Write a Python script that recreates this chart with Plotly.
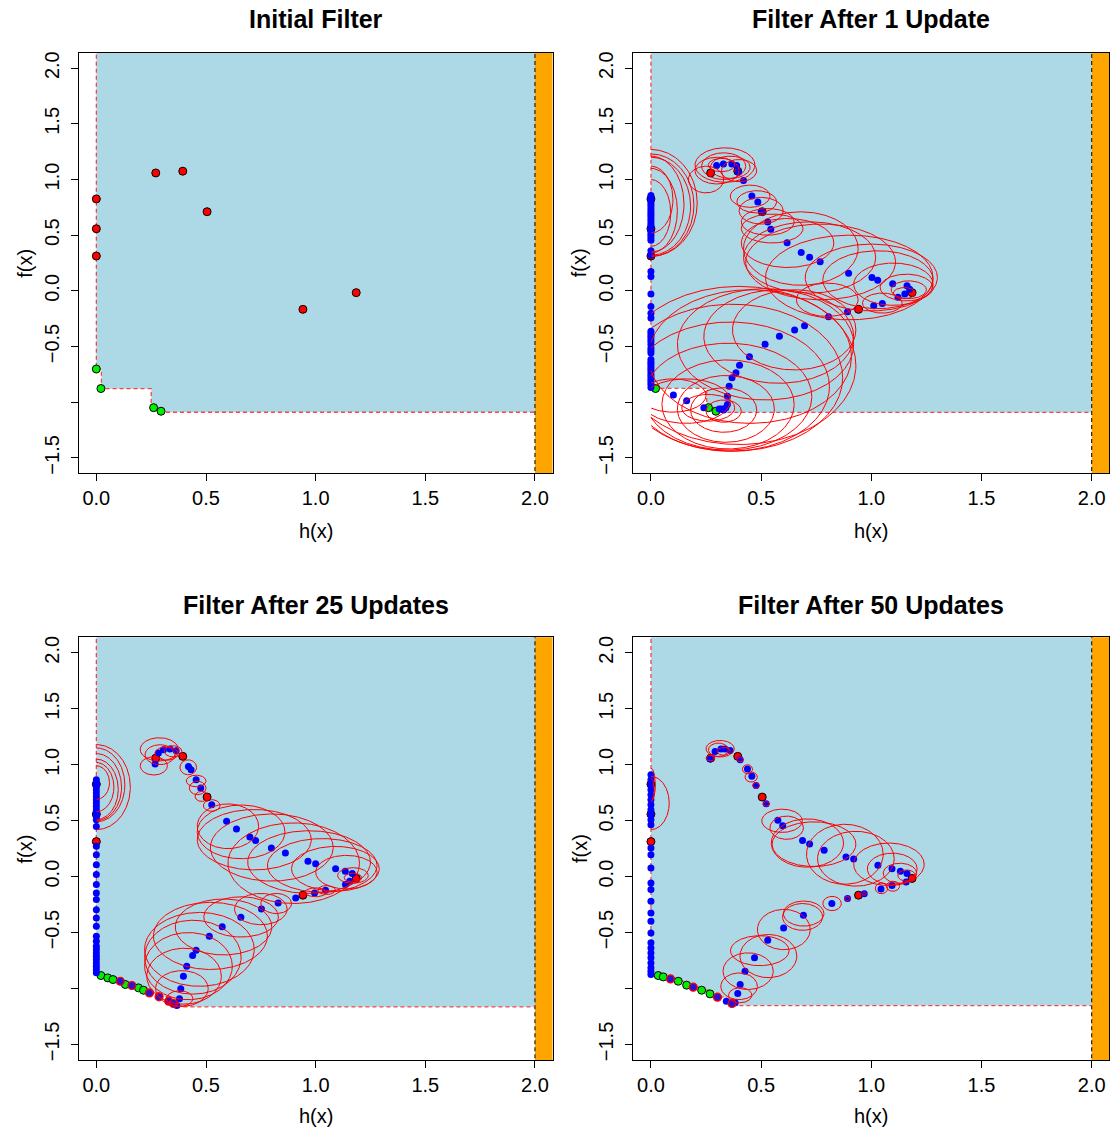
import numpy as np
import plotly.graph_objects as go

# ---------------- text / axes ----------------
TITLES = ["Initial Filter", "Filter After 1 Update", "Filter After 25 Updates", "Filter After 50 Updates"]
X_LABEL = "h(x)"
Y_LABEL = "f(x)"
X_TICKS = [0.0, 0.5, 1.0, 1.5, 2.0]
X_TICK_TEXT = ["0.0", "0.5", "1.0", "1.5", "2.0"]
Y_TICKS = [-1.5, -1.0, -0.5, 0.0, 0.5, 1.0, 1.5, 2.0]
Y_TICK_TEXT = ["\u22121.5", "", "\u22120.5", "0.0", "0.5", "1.0", "1.5", "2.0"]
H_MAX = 2.0
X_RANGE = [-0.08, 2.08]
Y_RANGE = [-1.64, 2.14]

# ---------------- initial (red) points, shown in every panel ----------------
red_h = [0.0, 0.0, 0.0, 0.271, 0.394, 0.505, 0.942, 1.185]
red_f = [0.826, 0.558, 0.313, 1.059, 1.075, 0.711, -0.166, -0.016]

# ---------------- panel 1: initial filter ----------------
p1_filter_h = [0.0, 0.023, 0.25, 0.30]
p1_filter_f = [-0.705, -0.878, -1.062, -1.09]
p1_green_h = [0.0, 0.021, 0.261, 0.295]
p1_green_f = [-0.702, -0.877, -1.049, -1.081]

# ---------------- panel 2: after 1 update ----------------
p2_filter_h = [0.0, 0.253, 0.30]
p2_filter_f = [-0.875, -1.05, -1.092]
p2_green_h = [0.021, 0.261, 0.295]
p2_green_f = [-0.877, -1.049, -1.081]
p2_blue_h = [0.298, 0.329, 0.367, 0.389, 0.397, 0.420, 0.458, 0.485, 0.503, 0.530, 0.544,
             0.618, 0.682, 0.720, 0.768, 0.897, 1.003, 1.029, 1.097, 1.162, 1.174, 1.152,
             1.121, 1.050, 1.011, 0.892, 0.806, 0.697, 0.652, 0.583, 0.518, 0.447, 0.402,
             0.386, 0.368, 0.355, 0.347, 0.347, 0.340, 0.330, 0.320, 0.310, 0.102, 0.162, 0.240]
p2_blue_f = [1.125, 1.140, 1.140, 1.125, 1.065, 0.991, 0.851, 0.798, 0.714, 0.619, 0.554,
             0.432, 0.345, 0.301, 0.262, 0.158, 0.119, 0.095, 0.065, 0.045, 0.015, -0.027,
             -0.057, -0.113, -0.134, -0.188, -0.232, -0.313, -0.351, -0.408, -0.479, -0.592, -0.667,
             -0.735, -0.780, -0.857, -0.946, -1.021, -1.050, -1.070, -1.060, -1.060, -0.935, -0.988, -1.050]
p2_axis_f = [0.857, 0.835, 0.8125, 0.79, 0.768, 0.745, 0.723, 0.70, 0.679, 0.656, 0.634, 0.61,
             0.589, 0.567, 0.545, 0.52, 0.50, 0.478, 0.455, 0.36, 0.321, 0.173, 0.128, -0.027,
             -0.14, -0.2, -0.244, -0.363, -0.385, -0.408, -0.43, -0.452, -0.48, -0.512, -0.535,
             -0.557, -0.616, -0.64, -0.661, -0.683, -0.705, -0.727, -0.75, -0.772, -0.795,
             -0.817, -0.839, -0.869]
p2_ring_h = []
p2_ring_f = []
p2_ellipses = [  # (centre h, centre f, half-width, half-height)
    (0.0, 0.79, 0.21, 0.48), (0.0, 0.77, 0.195, 0.46), (0.0, 0.76, 0.18, 0.44),
    (0.0, 0.78, 0.15, 0.43), (0.0, 0.72, 0.12, 0.38), (0.0, 0.70, 0.09, 0.30), (0.0, 0.82, 0.10, 0.30),
    (0.336, 1.13, 0.136, 0.155), (0.33, 1.12, 0.10, 0.12), (0.36, 1.11, 0.09, 0.10),
    (0.30, 1.08, 0.10, 0.12), (0.25, 1.00, 0.08, 0.12), (0.40, 1.08, 0.08, 0.10), (0.32, 1.13, 0.06, 0.06),
    (0.45, 0.85, 0.09, 0.10), (0.48, 0.80, 0.09, 0.10), (0.50, 0.72, 0.10, 0.12),
    (0.53, 0.62, 0.12, 0.12), (0.55, 0.56, 0.14, 0.13),
    (0.62, 0.43, 0.21, 0.22), (0.68, 0.38, 0.26, 0.33), (0.72, 0.30, 0.30, 0.32),
    (0.77, 0.26, 0.34, 0.34), (0.90, 0.12, 0.38, 0.38), (1.00, 0.12, 0.30, 0.30),
    (1.03, 0.10, 0.25, 0.26), (1.10, 0.06, 0.18, 0.19), (1.16, 0.03, 0.12, 0.12),
    (1.17, 0.01, 0.08, 0.08), (1.15, -0.02, 0.05, 0.05), (1.05, -0.11, 0.09, 0.09), (0.80, -0.08, 0.14, 0.15),
    (0.65, -0.35, 0.28, 0.36), (0.58, -0.41, 0.34, 0.42), (0.52, -0.48, 0.40, 0.50),
    (0.45, -0.59, 0.46, 0.60), (0.40, -0.67, 0.53, 0.71), (0.37, -0.78, 0.50, 0.66),
    (0.36, -0.86, 0.45, 0.58), (0.35, -0.95, 0.38, 0.48), (0.35, -1.02, 0.30, 0.40),
    (0.34, -1.06, 0.22, 0.30), (0.33, -1.07, 0.15, 0.20), (0.33, -1.08, 0.08, 0.10),
    (0.10, -0.94, 0.15, 0.15), (0.16, -0.99, 0.20, 0.20), (0.26, -1.05, 0.12, 0.12),
]

# ---------------- panel 3: after 25 updates ----------------
p3_filter_h = [0.0, 0.021, 0.052, 0.076, 0.109, 0.132, 0.162, 0.192, 0.215, 0.242, 0.286, 0.33, 0.352, 0.367, 0.375]
p3_filter_f = [-0.86, -0.884, -0.905, -0.92, -0.935, -0.964, -0.973, -0.994, -1.015, -1.039, -1.074, -1.113, -1.134, -1.152, -1.164]
p3_green_h = [0.021, 0.052, 0.076, 0.132, 0.192, 0.215]
p3_green_f = [-0.884, -0.905, -0.92, -0.964, -0.994, -1.015]
p3_ring_h = [0.109, 0.162, 0.242, 0.286, 0.33, 0.352]
p3_ring_f = [-0.935, -0.973, -1.039, -1.074, -1.113, -1.134]
p3_blue_h = [0.268, 0.283, 0.306, 0.336, 0.364, 0.420, 0.432, 0.455, 0.476, 0.526, 0.594, 0.639,
             0.700, 0.726, 0.798, 0.862, 0.965, 1.000, 1.091, 1.135, 1.167, 1.155, 1.136, 1.045,
             0.995, 0.909, 0.829, 0.753, 0.659, 0.574, 0.515, 0.455, 0.439, 0.412, 0.397, 0.385,
             0.379, 0.367, 0.0]
p3_blue_f = [1.006, 1.104, 1.134, 1.140, 1.125, 0.985, 0.955, 0.866, 0.792, 0.643, 0.494, 0.426,
             0.354, 0.324, 0.256, 0.211, 0.137, 0.116, 0.071, 0.048, 0.027, -0.042, -0.071, -0.122,
             -0.146, -0.190, -0.235, -0.289, -0.363, -0.449, -0.533, -0.658, -0.705, -0.801, -0.890, -1.003,
             -1.092, -1.152, -0.86]
p3_axis_f = [0.866, 0.836, 0.807, 0.777, 0.747, 0.717, 0.688, 0.658, 0.628, 0.598, 0.568, 0.539,
             0.509, 0.449, 0.271, 0.196, 0.107, 0.018, -0.071, -0.146, -0.205, -0.295, -0.369,
             -0.443, -0.533, -0.577, -0.622, -0.652, -0.682, -0.711, -0.741, -0.771, -0.801, -0.83]
p3_ellipses = [
    (0.0, 0.80, 0.155, 0.38), (0.0, 0.82, 0.13, 0.33), (0.0, 0.80, 0.115, 0.30),
    (0.0, 0.78, 0.10, 0.27), (0.0, 0.80, 0.08, 0.22), (0.0, 0.84, 0.06, 0.15),
    (0.287, 1.137, 0.087, 0.104), (0.29, 1.09, 0.068, 0.089), (0.262, 0.99, 0.062, 0.082),
    (0.32, 1.10, 0.053, 0.06), (0.35, 1.12, 0.04, 0.05),
    (0.419, 0.977, 0.038, 0.067), (0.455, 0.855, 0.045, 0.052), (0.462, 0.792, 0.038, 0.06),
    (0.48, 0.717, 0.03, 0.045), (0.526, 0.636, 0.038, 0.052),
    (0.60, 0.45, 0.14, 0.20), (0.66, 0.40, 0.20, 0.24), (0.72, 0.33, 0.26, 0.27),
    (0.80, 0.26, 0.28, 0.30), (0.90, 0.12, 0.30, 0.36), (0.97, 0.13, 0.28, 0.28),
    (1.03, 0.10, 0.25, 0.24), (1.09, 0.07, 0.20, 0.20), (1.14, 0.04, 0.14, 0.15),
    (1.17, 0.01, 0.07, 0.07), (1.17, -0.01, 0.04, 0.04), (1.00, -0.14, 0.05, 0.04), (1.05, -0.12, 0.04, 0.04),
    (0.82, -0.24, 0.07, 0.09), (0.75, -0.29, 0.12, 0.14), (0.66, -0.36, 0.17, 0.18),
    (0.58, -0.45, 0.22, 0.25), (0.52, -0.53, 0.26, 0.30), (0.47, -0.65, 0.25, 0.33),
    (0.44, -0.72, 0.22, 0.33), (0.42, -0.80, 0.20, 0.30), (0.40, -0.89, 0.17, 0.25),
    (0.39, -1.00, 0.12, 0.16), (0.38, -1.09, 0.06, 0.07),
]

# ---------------- panel 4: after 50 updates ----------------
p4_filter_h = [0.0, 0.033, 0.056, 0.089, 0.124, 0.162, 0.192, 0.23, 0.268, 0.302, 0.342, 0.368, 0.382]
p4_filter_f = [-0.875, -0.884, -0.896, -0.914, -0.935, -0.97, -0.988, -1.015, -1.048, -1.077, -1.113, -1.134, -1.152]
p4_green_h = [0.033, 0.056, 0.124, 0.162, 0.23, 0.268]
p4_green_f = [-0.884, -0.896, -0.935, -0.97, -1.015, -1.048]
p4_ring_h = [0.089, 0.192, 0.302, 0.368]
p4_ring_f = [-0.914, -0.988, -1.077, -1.134]
p4_blue_h = [0.268, 0.291, 0.318, 0.336, 0.359, 0.405, 0.438, 0.458, 0.477, 0.523, 0.576, 0.598,
             0.688, 0.720, 0.786, 0.885, 0.920, 1.030, 1.094, 1.132, 1.162, 1.158, 1.094, 1.044,
             0.968, 0.892, 0.821, 0.692, 0.602, 0.530, 0.470, 0.427, 0.405, 0.394, 0.382, 0.0, 0.342]
p4_blue_f = [1.051, 1.119, 1.140, 1.140, 1.128, 1.045, 0.961, 0.896, 0.815, 0.652, 0.503, 0.455,
             0.324, 0.292, 0.235, 0.176, 0.158, 0.101, 0.071, 0.048, 0.027, -0.048, -0.080, -0.110,
             -0.152, -0.196, -0.241, -0.345, -0.458, -0.568, -0.726, -0.845, -0.964, -1.045, -1.128, -0.875, -1.113]
p4_axis_f = [0.911, 0.866, 0.821, 0.777, 0.732, 0.688, 0.643, 0.598, 0.554, 0.509, 0.464, 0.256,
             0.196, 0.077, -0.057, -0.116, -0.22, -0.324, -0.399, -0.503, -0.592, -0.637, -0.682,
             -0.726, -0.771, -0.815, -0.845]
p4_ellipses = [
    (0.0, 0.658, 0.083, 0.238), (0.0, 0.82, 0.02, 0.15), (0.0, 0.78, 0.015, 0.10),
    (0.314, 1.143, 0.064, 0.074), (0.306, 1.134, 0.045, 0.06), (0.27, 1.06, 0.02, 0.025),
    (0.405, 1.045, 0.015, 0.02), (0.33, 1.12, 0.03, 0.035),
    (0.438, 0.96, 0.023, 0.04), (0.455, 0.89, 0.028, 0.045), (0.477, 0.815, 0.015, 0.025),
    (0.505, 0.71, 0.012, 0.02), (0.523, 0.65, 0.015, 0.02),
    (0.595, 0.499, 0.092, 0.104), (0.616, 0.437, 0.076, 0.104), (0.71, 0.30, 0.164, 0.216),
    (0.74, 0.29, 0.19, 0.20), (0.88, 0.20, 0.174, 0.268), (0.93, 0.16, 0.174, 0.245),
    (1.08, 0.11, 0.16, 0.19), (1.095, 0.07, 0.113, 0.14), (1.13, 0.03, 0.076, 0.09), (1.16, 0.01, 0.04, 0.05),
    (1.046, -0.105, 0.028, 0.048), (1.098, -0.086, 0.03, 0.045), (0.822, -0.24, 0.042, 0.064),
    (0.892, -0.196, 0.012, 0.02), (0.968, -0.152, 0.01, 0.015),
    (0.693, -0.33, 0.092, 0.112), (0.688, -0.36, 0.091, 0.12), (0.603, -0.473, 0.12, 0.18),
    (0.533, -0.71, 0.129, 0.193), (0.494, -0.662, 0.133, 0.134), (0.441, -0.845, 0.114, 0.164),
    (0.40, -0.98, 0.083, 0.119), (0.405, -1.06, 0.053, 0.067),
]

panels = [
    dict(fh=p1_filter_h, ff=p1_filter_f, gh=p1_green_h, gf=p1_green_f, bh=[], bf=[], af=[],
         rh=[], rf=[], ell=[]),
    dict(fh=p2_filter_h, ff=p2_filter_f, gh=p2_green_h, gf=p2_green_f, bh=p2_blue_h, bf=p2_blue_f,
         af=p2_axis_f, rh=p2_ring_h, rf=p2_ring_f, ell=p2_ellipses),
    dict(fh=p3_filter_h, ff=p3_filter_f, gh=p3_green_h, gf=p3_green_f, bh=p3_blue_h, bf=p3_blue_f,
         af=p3_axis_f, rh=p3_ring_h, rf=p3_ring_f, ell=p3_ellipses),
    dict(fh=p4_filter_h, ff=p4_filter_f, gh=p4_green_h, gf=p4_green_f, bh=p4_blue_h, bf=p4_blue_f,
         af=p4_axis_f, rh=p4_ring_h, rf=p4_ring_f, ell=p4_ellipses),
]

W, H = 1114, 1133
COL_X = [(78.8, 552.5), (633.3, 1109.3)]
ROW_Y = [(51.7, 473.3), (637.3, 1061.0)]
FONT = "Liberation Sans, Arial, Helvetica, sans-serif"

fig = go.Figure()
TOP = 3.0
BOT = -3.0


def staircase(hs, fs):
    xs, ys = [hs[0]], [TOP]
    for i in range(len(hs)):
        if i > 0:
            xs.append(hs[i]); ys.append(fs[i - 1])
        xs.append(hs[i]); ys.append(fs[i])
    xs.append(H_MAX); ys.append(fs[-1])
    return xs, ys


def ellipse_path(ells):
    xs, ys = [], []
    t = np.linspace(0, 2 * np.pi, 361)
    for (cx, cy, rx, ry) in ells:
        ex = cx + rx * np.cos(t)
        ey = cy + ry * np.sin(t)
        for a, b in zip(ex, ey):
            if a < 0:
                xs.append(None); ys.append(None)
            else:
                xs.append(float(a)); ys.append(float(b))
        xs.append(None); ys.append(None)
    return xs, ys


annotations = []
for k, p in enumerate(panels):
    r, c = divmod(k, 2)
    xa = "x" if k == 0 else f"x{k+1}"
    ya = "y" if k == 0 else f"y{k+1}"
    sx, sy = staircase(p["fh"], p["ff"])
    fig.add_trace(go.Scatter(x=sx + [H_MAX], y=sy + [TOP], fill="toself", fillcolor="#ADD8E6",
                             mode="none", xaxis=xa, yaxis=ya, hoverinfo="skip", showlegend=False))
    fig.add_trace(go.Scatter(x=[H_MAX, 2.5, 2.5, H_MAX], y=[BOT, BOT, TOP, TOP], fill="toself",
                             fillcolor="#FFA500", mode="none", xaxis=xa, yaxis=ya,
                             hoverinfo="skip", showlegend=False))
    fig.add_trace(go.Scatter(x=[H_MAX, H_MAX], y=[BOT, TOP], mode="lines",
                             line=dict(color="#222222", width=1.2, dash="4px,3px"),
                             xaxis=xa, yaxis=ya, hoverinfo="skip", showlegend=False))
    fig.add_trace(go.Scatter(x=sx, y=sy, mode="lines",
                             line=dict(color="rgba(255,40,40,0.85)", width=1.3, dash="4px,3px"),
                             xaxis=xa, yaxis=ya, hoverinfo="skip", showlegend=False))
    fig.add_trace(go.Scatter(x=red_h, y=red_f, mode="markers",
                             marker=dict(color="#FF0000", size=8, line=dict(color="black", width=1)),
                             xaxis=xa, yaxis=ya, showlegend=False, cliponaxis=False))
    fig.add_trace(go.Scatter(x=p["gh"], y=p["gf"], mode="markers",
                             marker=dict(color="#00EE00", size=8, line=dict(color="black", width=1)),
                             xaxis=xa, yaxis=ya, showlegend=False, cliponaxis=False))
    if p["bh"] or p["af"]:
        bh = list(p["bh"]) + [0.0] * len(p["af"])
        bf = list(p["bf"]) + list(p["af"])
        fig.add_trace(go.Scatter(x=bh, y=bf, mode="markers",
                                 marker=dict(color="#0000FF", size=7, line=dict(width=0)),
                                 xaxis=xa, yaxis=ya, showlegend=False, cliponaxis=False))
    if p["rh"]:
        fig.add_trace(go.Scatter(x=p["rh"], y=p["rf"], mode="markers",
                                 marker=dict(color="#3010D0", size=8, line=dict(color="#FF0000", width=1.2)),
                                 xaxis=xa, yaxis=ya, showlegend=False, cliponaxis=False))
    if p["ell"]:
        ex, ey = ellipse_path(p["ell"])
        fig.add_trace(go.Scatter(x=ex, y=ey, mode="lines", line=dict(color="#FF0000", width=1),
                                 connectgaps=False, xaxis=xa, yaxis=ya, hoverinfo="skip",
                                 showlegend=False))

    x0, x1 = COL_X[c]
    y0, y1 = ROW_Y[r]
    axis_common = dict(showgrid=False, zeroline=False, showline=True, mirror=True,
                       linecolor="black", linewidth=1, ticks="outside", ticklen=7,
                       tickwidth=1, tickcolor="black",
                       tickfont=dict(family=FONT, size=20, color="black"))
    fig.update_layout(**{
        ("xaxis" if k == 0 else f"xaxis{k+1}"): dict(
            domain=[x0 / W, x1 / W], range=X_RANGE, anchor=ya, tickvals=X_TICKS,
            ticktext=X_TICK_TEXT, ticklabelstandoff=0, **axis_common),
        ("yaxis" if k == 0 else f"yaxis{k+1}"): dict(
            domain=[1 - y1 / H, 1 - y0 / H], range=Y_RANGE, anchor=xa, tickvals=Y_TICKS,
            ticktext=Y_TICK_TEXT, tickangle=-90, ticklabelstandoff=4, **axis_common),
    })
    xc = (x0 + x1) / 2 / W
    annotations.append(dict(text=f"<b>{TITLES[k]}</b>", x=xc, y=1 - (18 + 587 * r) / H,
                            xref="paper", yref="paper", showarrow=False, xanchor="center",
                            yanchor="middle", font=dict(family=FONT, size=25, color="black")))
    annotations.append(dict(text=X_LABEL, x=xc, y=1 - (531 + 586 * r) / H, xref="paper", yref="paper",
                            showarrow=False, xanchor="center", yanchor="middle",
                            font=dict(family=FONT, size=20, color="black")))
    annotations.append(dict(text=Y_LABEL, x=(x0 - 54) / W, y=1 - (y0 + y1) / 2 / H, xref="paper",
                            yref="paper", showarrow=False, xanchor="center", yanchor="middle",
                            textangle=-90, font=dict(family=FONT, size=20, color="black")))

fig.update_layout(width=W, height=H, margin=dict(l=0, r=0, t=0, b=0), paper_bgcolor="white",
                  plot_bgcolor="white", annotations=annotations, showlegend=False)

fig.write_html("out.html", config={"displayModeBar": False},
               post_script="document.body.style.margin='0';document.body.style.overflow='hidden';")
